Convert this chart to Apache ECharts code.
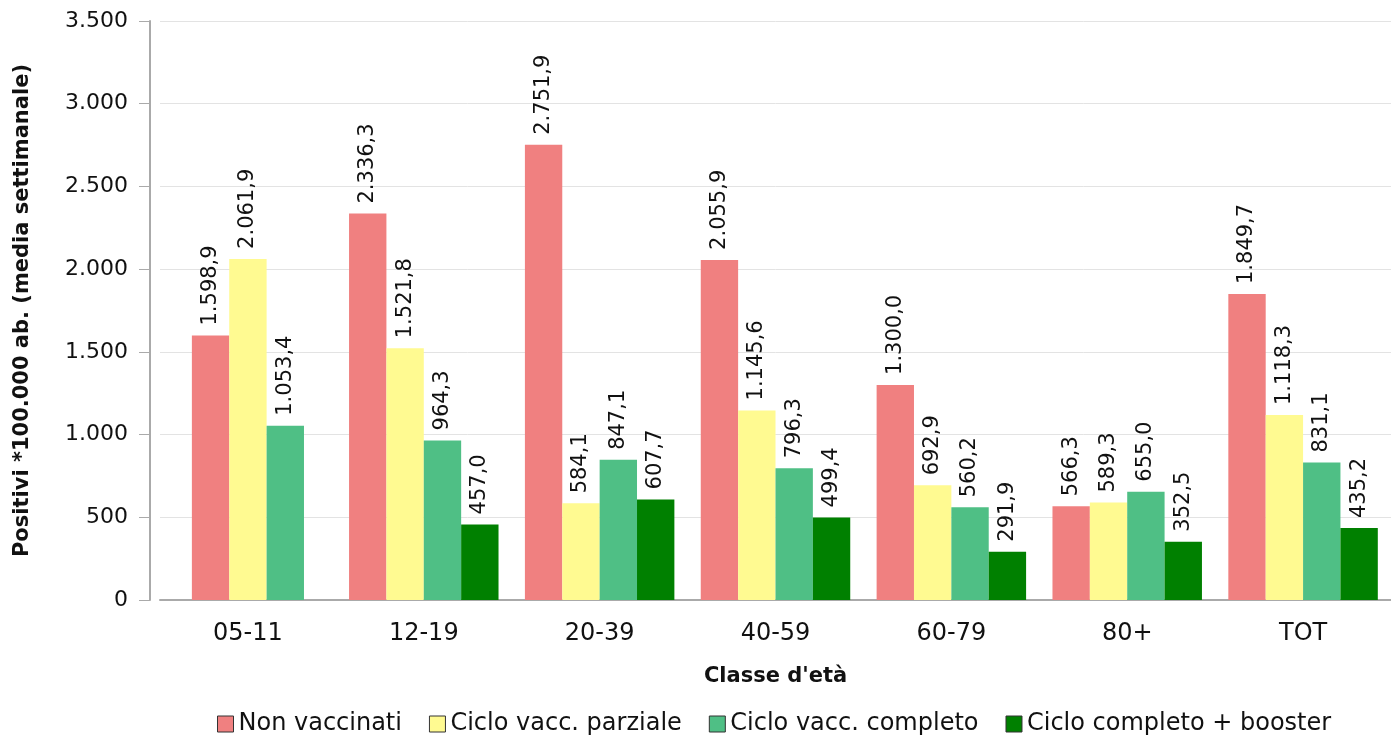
<!DOCTYPE html>
<html>
<head>
<meta charset="utf-8">
<script src="https://cdn.jsdelivr.net/npm/echarts@6/dist/echarts.min.js"></script>
<style>
  html, body { margin: 0; padding: 0; background: #fff; }
  #chart { width: 1391px; height: 736px; }
</style>
</head>
<body>
<div id="chart"></div>
<script>
// dati
const categories = ['05-11', '12-19', '20-39', '40-59', '60-79', '80+', 'TOT'];
const nonVaccinati = [1598.9, 2336.3, 2751.9, 2055.9, 1300.0, 566.3, 1849.7];
const cicloParziale = [2061.9, 1521.8, 584.1, 1145.6, 692.9, 589.3, 1118.3];
const cicloCompleto = [1053.4, 964.3, 847.1, 796.3, 560.2, 655.0, 831.1];
const cicloBooster = [null, 457.0, 607.7, 499.4, 291.9, 352.5, 435.2];

const seriesNames = ['Non vaccinati', 'Ciclo vacc. parziale', 'Ciclo vacc. completo', 'Ciclo completo + booster'];
const seriesData = [nonVaccinati, cicloParziale, cicloCompleto, cicloBooster];
const colors = ['#F08080', '#FFFA91', '#4FBF85', '#008000'];

const FONT = '"DejaVu Sans", sans-serif';

// formato italiano
const fmtNum = (v, dec) => {
    const parts = v.toFixed(dec).split('.');
    parts[0] = parts[0].replace(/\B(?=(\d{3})+(?!\d))/g, '.');
    return parts.join(',');
};

// barre centrate sulla categoria (i valori nulli non occupano spazio)
const renderItem = (params, api) => {
    const cat = api.value(0);
    const val = api.value(1);
    const s = params.seriesIndex;
    let n = 0, k = 0;
    seriesData.forEach((arr, i) => {
        if (arr[cat] != null) {
            if (i < s) k++;
            n++;
        }
    });
    const band = api.size([1, 0])[0];
    const barW = band * 0.85 / 4;
    const base = api.coord([cat, 0]);
    const top = api.coord([cat, val]);
    const x0 = base[0] - n * barW / 2 + k * barW;
    return {
        type: 'group',
        children: [
            {
                type: 'rect',
                shape: { x: x0, y: top[1], width: barW, height: base[1] - top[1] },
                style: { fill: colors[s] }
            },
            {
                type: 'text',
                x: x0 + barW / 2,
                y: top[1] - 10,
                rotation: Math.PI / 2,
                style: {
                    text: fmtNum(val, 1),
                    textAlign: 'left',
                    textVerticalAlign: 'middle',
                    font: '21px ' + FONT,
                    fill: '#111'
                }
            }
        ]
    };
};

const chart = echarts.init(document.getElementById('chart'));

const option = {
    animation: false,
    textStyle: { fontFamily: FONT },
    grid: { left: 160, right: 0, top: 21, bottom: 136 },
    legend: {
        left: 212,
        top: 707,
        icon: 'rect',
        itemWidth: 16,
        itemHeight: 16,
        itemGap: 27,
        itemStyle: { borderColor: '#333', borderWidth: 1 },
        textStyle: { fontSize: 24, color: '#111', fontFamily: FONT },
        data: seriesNames
    },
    xAxis: {
        type: 'category',
        data: categories,
        name: "Classe d'età",
        nameLocation: 'middle',
        nameGap: 66,
        nameTextStyle: { fontSize: 21, fontWeight: 'bold', color: '#111' },
        axisLine: { lineStyle: { color: '#aaa', width: 2 } },
        axisTick: { alignWithLabel: true, length: 11, lineStyle: { color: '#aaa', width: 2 } },
        axisLabel: { fontSize: 24, color: '#111', margin: 22 },
        splitLine: { show: false }
    },
    yAxis: {
        type: 'value',
        min: 0,
        max: 3500,
        interval: 500,
        offset: 10,
        name: 'Positivi *100.000 ab. (media settimanale)',
        nameLocation: 'middle',
        nameGap: 117,
        nameRotate: 90,
        nameTextStyle: { fontSize: 21, fontWeight: 'bold', color: '#111' },
        axisLine: { show: true, lineStyle: { color: '#aaa', width: 2 } },
        axisTick: { show: true, length: 11, lineStyle: { color: '#aaa', width: 1 } },
        axisLabel: {
            fontSize: 22,
            color: '#111',
            margin: 22,
            formatter: v => fmtNum(v, 0)
        },
        splitLine: { lineStyle: { color: '#e3e3e3', width: 1 } }
    },
    series: seriesData.map((arr, i) => ({
        name: seriesNames[i],
        type: 'custom',
        renderItem: renderItem,
        itemStyle: { color: colors[i] },
        encode: { x: 0, y: 1 },
        data: arr.map((v, j) => [j, v]).filter(d => d[1] != null)
    }))
};

chart.setOption(option);
</script>
</body>
</html>
